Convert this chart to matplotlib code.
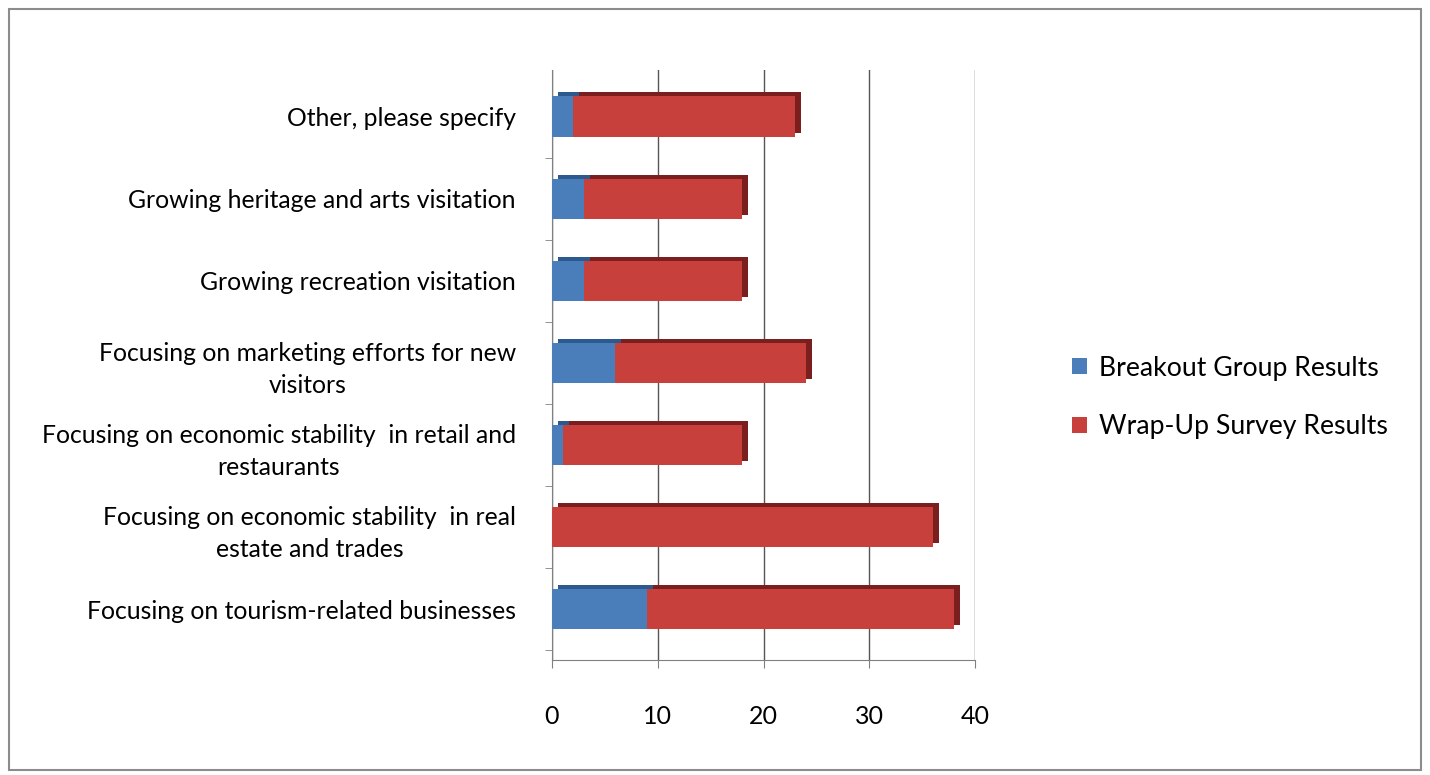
import numpy as np
import matplotlib.pyplot as plt
import matplotlib.transforms as mtransforms
from matplotlib.patches import Rectangle

plt.rcParams['font.family'] = ['Lato', 'DejaVu Sans']

categories = ['Focusing on tourism-related businesses',
              'Focusing on economic stability  in real\nestate and trades',
              'Focusing on economic stability  in retail and\nrestaurants',
              'Focusing on marketing efforts for new\nvisitors',
              'Growing recreation visitation',
              'Growing heritage and arts visitation',
              'Other, please specify']
breakout = [9, 0, 1, 6, 3, 3, 2]
wrapup = [29, 36, 17, 18, 15, 15, 21]
series_names = ['Breakout Group Results', 'Wrap-Up Survey Results']
xticks = [0, 10, 20, 30, 40]

blue = '#4A7EBB'
red = '#C8403C'

fig = plt.figure(figsize=(14.3, 7.75), dpi=100)
fig.patches.append(Rectangle((0.006, 0.006), 0.988, 0.983, transform=fig.transFigure,
                             fill=False, edgecolor='#8c8c8c', linewidth=1.5))

ax = fig.add_axes([0.386, 0.148, 0.296, 0.762])
y = np.arange(len(categories))
b = np.array(breakout)
w = np.array(wrapup)
h = 0.49

# depth shading for the 3-D look
shadow = mtransforms.offset_copy(ax.transData, fig=fig, x=6, y=4, units='dots')
ax.barh(y, b + w, height=h, color='#7a1f1d', transform=shadow, zorder=2)
ax.barh(y, b, height=h, color='#2d5a8e', transform=shadow, zorder=2)

ax.barh(y, b, height=h, color=blue, zorder=3, label=series_names[0])
ax.barh(y, w, left=b, height=h, color=red, zorder=3, label=series_names[1])

ax.set_xlim(0, 40)
ax.set_ylim(-0.62, 6.57)
ax.set_xticks(xticks)
ax.tick_params(axis='x', labelsize=18, length=6, color='#808080', pad=26)
ax.set_yticks(y - 0.5, minor=True)
ax.set_yticks(y)
ax.set_yticklabels(categories, fontsize=17.8)
for t in ax.get_yticklabels():
    t.set_multialignment('center')
    t.set_linespacing(1.45)
ax.tick_params(axis='y', which='major', length=0, pad=26)
ax.tick_params(axis='y', which='minor', length=5, color='#808080')
ax.xaxis.grid(True, color='#555555', linewidth=1)
ax.set_axisbelow(True)
for s in ['top', 'right']:
    ax.spines[s].set_visible(False)
for s in ['left', 'bottom']:
    ax.spines[s].set_color('#808080')

ax.legend(loc='center left', bbox_to_anchor=(1.172, 0.445), frameon=False,
          fontsize=19.2, handlelength=0.55, handleheight=0.55, handletextpad=0.45,
          labelspacing=1.25)

fig.savefig('out.png', dpi=100)
